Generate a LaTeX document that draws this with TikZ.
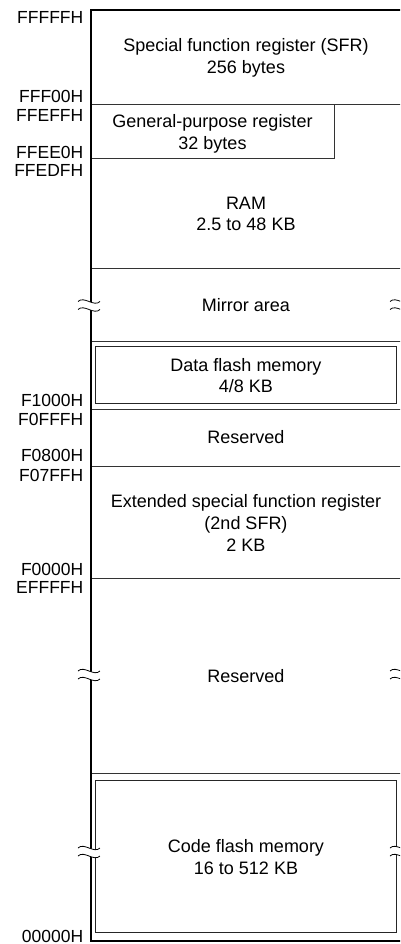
\documentclass[tikz,border=0pt]{standalone}
\usepackage{fontspec}
\setmainfont{Liberation Sans}
\begin{document}
\begin{tikzpicture}[x=1pt,y=-1pt,
  lbl/.style={anchor=base east,inner sep=0pt,font=\fontsize{17.5}{20}\selectfont},
  area/.style={align=center,inner sep=0pt,font=\fontsize{18}{21.7}\selectfont},
  divider/.style={draw=black!80,line width=0.9pt},
  border/.style={draw=black,line width=1.3pt},
  inbox/.style={draw=black!85,line width=0.9pt}]
\useasboundingbox (0,0) rectangle (400,944);
\clip (0,0) rectangle (400,944);
% frame corners
\coordinate (tl) at (91,10);
\coordinate (tr) at (402,10);
\coordinate (bl) at (91,941);
\coordinate (br) at (402,941);
% dividers
\draw[divider] (91,104.5) -- (402,104.5);
\draw[divider] (334,104.5) -- (334,158.5) -- (91,158.5);
\draw[divider] (91,268) -- (402,268);
\draw[divider] (91,341) -- (402,341);
\draw[divider] (91,409) -- (402,409);
\draw[divider] (91,466) -- (402,466);
\draw[divider] (91,578) -- (402,578);
\draw[divider] (91,773) -- (402,773);
% inner boxes
\draw[inbox] (95.5,346.5) rectangle (396.5,403.5);
\draw[inbox] (95.5,780) rectangle (396.5,932.5);
% outer frame
\draw[border] (tr) -- (tl) -- (bl) -- (br);
% break marks
\foreach \mx/\my in {89/305.5, 401/305.5, 89/675, 401/675, 89/852, 401/852}{
  \fill[white] (\mx-11,\my-4) .. controls (\mx-5,\my-10) and (\mx+5,\my+2) .. (\mx+11,\my-4)
     -- (\mx+11,\my+4) .. controls (\mx+5,\my+10) and (\mx-5,\my-2) .. (\mx-11,\my+4) -- cycle;
  \draw[black,line width=0.8pt] (\mx-11,\my-4) .. controls (\mx-5,\my-10) and (\mx+5,\my+2) .. (\mx+11,\my-4);
  \draw[black,line width=0.8pt] (\mx-11,\my+4) .. controls (\mx-5,\my-2) and (\mx+5,\my+10) .. (\mx+11,\my+4);
}
% address labels
\node[lbl] (a1) at (83.5,24) {FFFFFH};
\node[lbl] (a2) at (83.5,102.7) {FFF00H};
\node[lbl] (a3) at (83.5,121.7) {FFEFFH};
\node[lbl] (a4) at (83.5,158.3) {FFEE0H};
\node[lbl] (a5) at (83.5,176) {FFEDFH};
\node[lbl] (a6) at (83.5,406) {F1000H};
\node[lbl] (a7) at (83.5,425) {F0FFFH};
\node[lbl] (a8) at (83.5,461.7) {F0800H};
\node[lbl] (a9) at (83.5,481.7) {F07FFH};
\node[lbl] (a10) at (83.5,575) {F0000H};
\node[lbl] (a11) at (83.5,593.3) {EFFFFH};
\node[lbl] (a12) at (83.5,942.5) {00000H};
% area texts
\node[area] (sfr) at (246,57.5) {Special function register (SFR)\\256 bytes};
\node[area] (gpr) at (212.5,134) {General-purpose register\\32 bytes};
\node[area] (ram) at (246,214) {RAM\\2.5 to 48 KB};
\node[area] (mir) at (246,305) {Mirror area};
\node[area] (dfl) at (246,375.5) {Data flash memory\\4/8 KB};
\node[area] (rs1) at (246,437.5) {Reserved};
\node[area] (esfr) at (246,523) {Extended special function register\\(2nd SFR)\\2 KB};
\node[area] (rs2) at (246,676) {Reserved};
\node[area] (cfl) at (246,857) {Code flash memory\\16 to 512 KB};
\end{tikzpicture}
\end{document}
